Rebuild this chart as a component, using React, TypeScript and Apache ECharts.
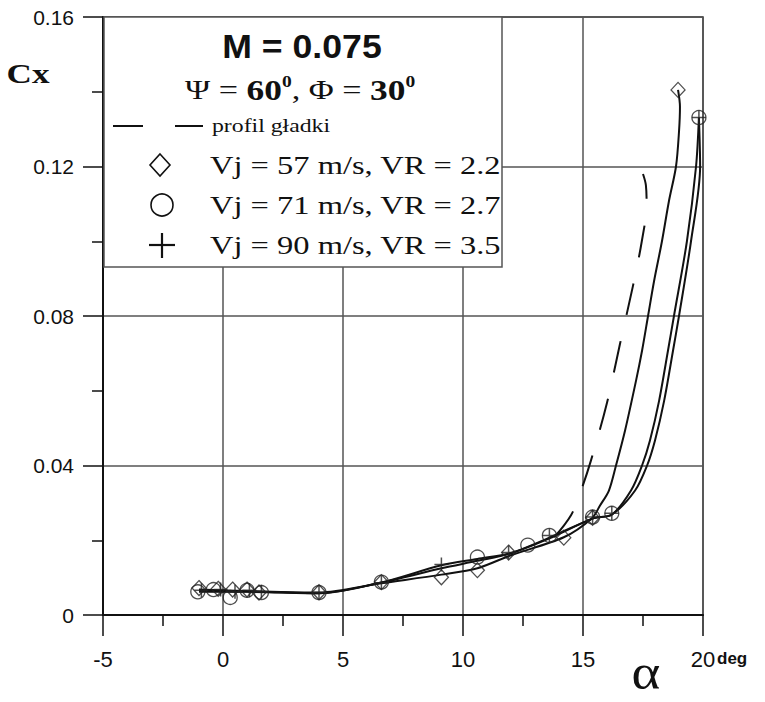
import React, { useEffect, useRef } from "react";
import * as echarts from "echarts";

// ---- Data ----
const xTicks = [-5, 0, 5, 10, 15, 20];
const yTicks = [0, 0.04, 0.08, 0.12, 0.16];

// measured points, Vj = 57 m/s (diamonds)
const alpha57 = [-1.0, -0.2, 0.4, 1.0, 1.5, 4.0, 6.6, 9.1, 10.6, 11.9, 14.2, 15.4, 18.96];
const cx57 = [0.0072, 0.007, 0.0068, 0.0068, 0.006, 0.0061, 0.0088, 0.0101, 0.012, 0.0167, 0.0207, 0.026, 0.1405];

// measured points, Vj = 71 m/s (circles)
const alpha71 = [-1.05, -0.4, 0.3, 1.0, 1.6, 4.0, 6.6, 10.6, 12.7, 13.6, 15.4, 16.2, 19.83];
const cx71 = [0.0062, 0.0068, 0.0047, 0.0066, 0.006, 0.006, 0.0088, 0.0155, 0.0187, 0.0213, 0.0262, 0.0272, 0.1331];

// measured points, Vj = 90 m/s (plus)
const alpha90 = [-0.9, -0.1, 0.5, 1.1, 1.6, 4.0, 6.6, 9.1, 11.9, 13.6, 15.4, 16.2, 19.83];
const cx90 = [0.0066, 0.0068, 0.0062, 0.0066, 0.0062, 0.006, 0.0086, 0.0135, 0.0167, 0.0213, 0.0262, 0.0272, 0.1331];

// fitted curves
const fitAlpha57 = [-1.0, 1.0, 4.0, 6.6, 9.1, 10.6, 12.0, 14.2, 15.375, 15.71, 16.08, 16.375, 16.75, 17.21, 17.46, 17.71, 17.96, 18.29, 18.58, 18.875, 19.0, 19.04, 18.96];
const fitCx57 = [0.0068, 0.0064, 0.006, 0.0085, 0.0108, 0.0125, 0.016, 0.0208, 0.0259, 0.0293, 0.0333, 0.04, 0.0493, 0.0627, 0.0707, 0.08, 0.0893, 0.1, 0.1107, 0.12, 0.1293, 0.136, 0.1405];

const fitAlpha71 = [-1.0, 1.0, 4.0, 6.6, 9.1, 10.6, 12.0, 13.6, 15.4, 16.21, 17.0, 17.46, 17.79, 18.17, 18.54, 18.79, 19.33, 19.71, 19.83];
const fitCx71 = [0.0062, 0.0062, 0.0058, 0.0087, 0.0125, 0.0145, 0.0165, 0.0205, 0.0258, 0.0269, 0.0333, 0.04, 0.0467, 0.0573, 0.0707, 0.08, 0.1, 0.12, 0.1331];

const fitAlpha90 = [-1.0, 1.0, 4.0, 6.6, 9.1, 10.6, 12.0, 13.6, 15.4, 16.21, 17.17, 17.67, 18.0, 18.38, 18.75, 19.0, 19.5, 19.88, 19.83];
const fitCx90 = [0.0064, 0.0063, 0.0058, 0.0087, 0.0133, 0.015, 0.0166, 0.0207, 0.0258, 0.0269, 0.0333, 0.04, 0.0467, 0.0573, 0.0707, 0.08, 0.1, 0.12, 0.1331];

// smooth profile "profil gładki" (dashed)
const fitAlphaSmooth = [13.8, 14.5, 14.9, 15.33, 16.0, 16.54, 17.08, 17.45, 17.65, 17.62, 17.5];
const fitCxSmooth = [0.0208, 0.0267, 0.033, 0.0413, 0.0568, 0.0725, 0.088, 0.1, 0.11, 0.115, 0.118];

const zip = (a: number[], b: number[]) => a.map((v, i) => [v, b[i]]);

const serif = "'Liberation Serif', 'DejaVu Serif', serif";
const sans = "'Liberation Sans', Arial, sans-serif";

export default function App() {
  const ref = useRef<HTMLDivElement>(null);
  useEffect(() => {
    if (!ref.current) return;
    const chart = echarts.init(ref.current, undefined, { renderer: "svg" });
    const markerStyle = { color: "rgba(0,0,0,0)", borderColor: "#222", borderWidth: 1.3 };
    const lineStyle = { color: "#111", width: 2 };
    const legendText = (t: string, y: number) => ({
      type: "text",
      z: 11,
      x: 210,
      y,
      scaleX: 1.3,
      style: { text: t, font: `25px ${serif}`, fill: "#111", align: "left", verticalAlign: "middle" },
    });
    chart.setOption({
      animation: false,
      backgroundColor: "#fff",
      grid: { left: 103, right: 62, top: 17, bottom: 87, show: true, borderColor: "#333", borderWidth: 1.5 },
      xAxis: {
        type: "value",
        min: xTicks[0],
        max: xTicks[xTicks.length - 1],
        interval: 5,
        axisLine: { onZero: false, lineStyle: { color: "#111", width: 2 } },
        axisTick: { show: true, length: 21, lineStyle: { color: "#111", width: 1.5 } },
        minorTick: { show: true, splitNumber: 2, length: 11, lineStyle: { color: "#111", width: 1.5 } },
        splitLine: { show: true, lineStyle: { color: "#555", width: 1.5 } },
        axisLabel: { margin: 33, fontSize: 22, color: "#111", fontFamily: sans, showMaxLabel: true, showMinLabel: true },
      },
      yAxis: {
        type: "value",
        min: yTicks[0],
        max: yTicks[yTicks.length - 1],
        interval: 0.04,
        axisLine: { show: true, onZero: false, lineStyle: { color: "#111", width: 2 } },
        axisTick: { show: true, length: 20, lineStyle: { color: "#111", width: 1.5 } },
        minorTick: { show: true, splitNumber: 2, length: 11, lineStyle: { color: "#111", width: 1.5 } },
        splitLine: { show: true, lineStyle: { color: "#555", width: 1.5 } },
        axisLabel: { margin: 29, fontSize: 21, color: "#111", fontFamily: sans, showMaxLabel: true },
      },
      series: [
        { type: "line", data: zip(fitAlpha57, fitCx57), smooth: 0.3, showSymbol: false, lineStyle, z: 3 },
        { type: "line", data: zip(fitAlpha71, fitCx71), smooth: 0.3, showSymbol: false, lineStyle, z: 3 },
        { type: "line", data: zip(fitAlpha90, fitCx90), smooth: 0.3, showSymbol: false, lineStyle, z: 3 },
        {
          type: "line",
          data: zip(fitAlphaSmooth, fitCxSmooth),
          smooth: 0.35,
          showSymbol: false,
          lineStyle: { color: "#111", width: 2, type: [32, 27] },
          z: 3,
        },
        { type: "scatter", data: zip(alpha57, cx57), symbol: "diamond", symbolSize: [14, 15], itemStyle: markerStyle, z: 4 },
        { type: "scatter", data: zip(alpha71, cx71), symbol: "circle", symbolSize: 14, itemStyle: markerStyle, z: 4 },
        {
          type: "scatter",
          data: zip(alpha90, cx90),
          symbol: "path://M7,0L7,14M0,7L14,7",
          symbolSize: 14,
          itemStyle: { color: "rgba(0,0,0,0)", borderColor: "#222", borderWidth: 1.5 },
          z: 4,
        },
      ],
      graphic: [
        {
          type: "rect",
          z: 10,
          shape: { x: 104, y: 17, width: 398, height: 250 },
          style: { fill: "#fff", stroke: "#555", lineWidth: 1.5 },
        },
        {
          type: "text",
          z: 11,
          x: 302,
          y: 46,
          scaleX: 1.08,
          style: { text: "M = 0.075", font: `bold 33px ${sans}`, fill: "#111", align: "center", verticalAlign: "middle" },
        },
        {
          type: "text",
          z: 11,
          x: 185,
          y: 90,
          scaleX: 1.22,
          style: {
            text: "{r|Ψ = }{b|60}{s|0}{r|, Φ = }{b|30}{s|0}",
            align: "left",
            verticalAlign: "middle",
            fill: "#111",
            rich: {
              r: { fontFamily: serif, fontSize: 28, lineHeight: 32, fill: "#111" },
              b: { fontFamily: serif, fontSize: 29, fontWeight: "bold", lineHeight: 32, fill: "#111" },
              s: { fontFamily: serif, fontSize: 16, fontWeight: "bold", lineHeight: 16, verticalAlign: "top", fill: "#111" },
            },
          },
        },
        { type: "line", z: 11, shape: { x1: 113, y1: 126, x2: 143, y2: 126 }, style: { stroke: "#111", lineWidth: 2 } },
        { type: "line", z: 11, shape: { x1: 175, y1: 126, x2: 203, y2: 126 }, style: { stroke: "#111", lineWidth: 2 } },
        {
          type: "text",
          z: 11,
          x: 212,
          y: 126,
          scaleX: 1.25,
          style: { text: "profil gładki", font: `19px ${serif}`, fill: "#111", align: "left", verticalAlign: "middle" },
        },
        {
          type: "polygon",
          z: 11,
          shape: { points: [[160, 154], [170, 165], [160, 176], [150, 165]] },
          style: { fill: "none", stroke: "#111", lineWidth: 1.6 },
        },
        { type: "circle", z: 11, shape: { cx: 162, cy: 205, r: 11 }, style: { fill: "none", stroke: "#111", lineWidth: 1.6 } },
        { type: "line", z: 11, shape: { x1: 149, y1: 245, x2: 175, y2: 245 }, style: { stroke: "#111", lineWidth: 2.2 } },
        { type: "line", z: 11, shape: { x1: 162, y1: 233, x2: 162, y2: 258 }, style: { stroke: "#111", lineWidth: 2.2 } },
        legendText("Vj = 57 m/s, VR = 2.2", 165),
        legendText("Vj = 71 m/s, VR = 2.7", 205),
        legendText("Vj = 90 m/s, VR = 3.5", 245),
        {
          type: "text",
          z: 11,
          x: 28,
          y: 74,
          scaleX: 1.3,
          style: { text: "Cx", font: `bold 27px ${serif}`, fill: "#111", align: "center", verticalAlign: "middle" },
        },
        {
          type: "text",
          z: 11,
          x: 717,
          y: 658,
          style: { text: "deg", font: `bold 17px ${sans}`, fill: "#111", align: "left", verticalAlign: "middle" },
        },
        {
          type: "text",
          z: 11,
          x: 646,
          y: 672,
          scaleX: 1.1,
          style: { text: "α", font: `50px ${serif}`, fill: "#111", align: "center", verticalAlign: "middle" },
        },
      ],
    });
    return () => chart.dispose();
  }, []);
  return (
    <div
      ref={ref}
      style={{ position: "fixed", left: 0, top: 0, width: 765, height: 702, background: "#fff" }}
    />
  );
}
